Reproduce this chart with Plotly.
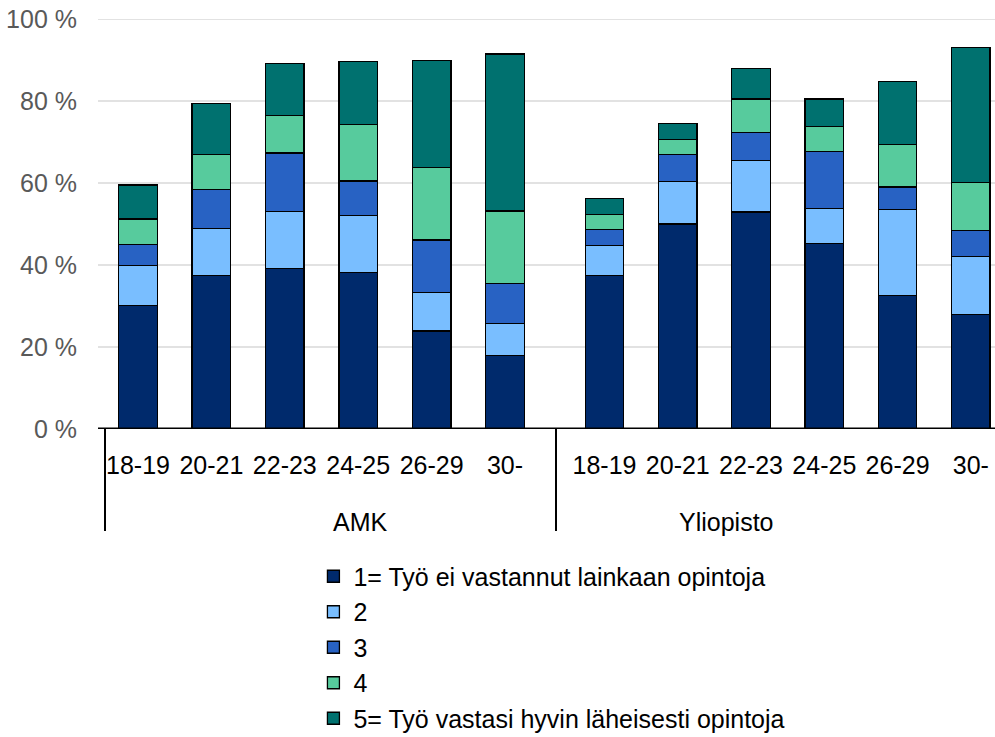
import plotly.graph_objects as go

# age groups (same for both school types)
ages = ["18-19", "20-21", "22-23", "24-25", "26-29", "30-"]
groups = ["AMK", "Yliopisto"]

series_names = [
    "1= Työ ei vastannut lainkaan opintoja",
    "2",
    "3",
    "4",
    "5= Työ vastasi hyvin läheisesti opintoja",
]
colors = ["#002A6C", "#79BEFF", "#2862C3", "#57CB9D", "#00716F"]

# AMK, % per answer level
amk_1 = [30.1, 37.5, 39.1, 38.2, 23.9, 17.9]
amk_2 = [9.7, 11.4, 13.9, 13.9, 9.4, 7.8]
amk_3 = [5.2, 9.6, 14.3, 8.4, 12.8, 9.8]
amk_4 = [6.2, 8.4, 9.2, 13.8, 17.7, 17.7]
amk_5 = [8.3, 12.5, 12.7, 15.3, 26.1, 38.3]

# Yliopisto, % per answer level
yo_1 = [37.5, 50.0, 52.9, 45.2, 32.5, 27.9]
yo_2 = [7.3, 10.3, 12.6, 8.5, 21.0, 14.1]
yo_3 = [3.9, 6.6, 6.8, 13.9, 5.5, 6.5]
yo_4 = [3.7, 3.7, 8.2, 6.1, 10.4, 11.6]
yo_5 = [3.9, 3.9, 7.5, 6.8, 15.3, 33.0]

y_ticks = [0, 20, 40, 60, 80, 100]
y_ticktext = [f"{v} %" for v in y_ticks]

amk = [amk_1, amk_2, amk_3, amk_4, amk_5]
yo = [yo_1, yo_2, yo_3, yo_4, yo_5]

W, H = 995, 737
FONT = "Liberation Sans, Arial, sans-serif"

fig = go.Figure()
for i, name in enumerate(series_names):
    fig.add_trace(go.Bar(x=ages, y=amk[i], name=name, marker_color=colors[i],
                         marker_line=dict(color="black", width=1.3),
                         legendgroup=name, xaxis="x", yaxis="y"))
    fig.add_trace(go.Bar(x=ages, y=yo[i], name=name, marker_color=colors[i],
                         marker_line=dict(color="black", width=1.3),
                         legendgroup=name, showlegend=False, xaxis="x2", yaxis="y"))

x_left = 98 / W
fig.update_layout(
    width=W, height=H,
    margin=dict(l=0, r=0, t=0, b=0, autoexpand=False),
    paper_bgcolor="white", plot_bgcolor="rgba(0,0,0,0)",
    barmode="stack", bargap=0.475,
    font=dict(family=FONT, size=25, color="black"),
    xaxis=dict(domain=[101.3 / W, 541.7 / W], anchor="y", type="category",
               range=[-0.5, 5.5], showline=False, showgrid=False, ticks="",
               automargin=False,
               ticklabelstandoff=19, tickfont=dict(size=25, color="black")),
    xaxis2=dict(domain=[567.9 / W, 1], anchor="y", type="category",
                range=[-0.5, 5.33], showline=False, showgrid=False, ticks="",
                automargin=False,
                ticklabelstandoff=19, tickfont=dict(size=25, color="black")),
    yaxis=dict(domain=[1 - 429 / H, 1 - 19 / H], range=[0, 100],
               anchor="free", position=x_left, tickvals=y_ticks, ticktext=y_ticktext,
               showgrid=False, zeroline=False, showline=False, ticks="",
               automargin=False,
               ticklabelstandoff=21, tickfont=dict(size=25, color="#595959")),
    legend=dict(x=0.315, y=0.249, xanchor="left", yanchor="top",
                font=dict(size=25, color="black"), tracegroupgap=0,
                bgcolor="rgba(0,0,0,0)"),
)

# horizontal gridlines
for v in y_ticks[1:]:
    fig.add_shape(type="line", xref="paper", yref="y", x0=x_left, x1=1, y0=v, y1=v,
                  line=dict(color="#D9D9D9", width=1.5), layer="below")

# base line and group dividers
fig.add_shape(type="line", xref="paper", yref="y", x0=x_left, x1=1, y0=0, y1=0,
              line=dict(color="black", width=3))
for xd in [105, 556]:
    fig.add_shape(type="line", xref="paper", yref="paper", x0=xd / W, x1=xd / W,
                  y0=1 - 429 / H, y1=1 - 531 / H, line=dict(color="black", width=2))

# group labels
for g, xc in zip(groups, [330.5, 775.5]):
    fig.add_annotation(text=g, xref="paper", yref="paper", x=xc / W, y=1 - 522 / H,
                       yanchor="middle", showarrow=False,
                       font=dict(size=25, color="black"))

fig.write_html("out.html", config={"displayModeBar": False},
               post_script="document.body.style.margin='0';")
